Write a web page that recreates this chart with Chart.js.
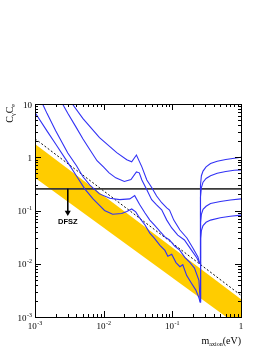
<!DOCTYPE html>
<html>
<head>
<meta charset="utf-8">
<script src="https://cdn.jsdelivr.net/npm/chart.js@4.4.0/dist/chart.umd.min.js"></script>
<style>
  html, body { margin: 0; padding: 0; background: #fff; }
  #wrap { width: 274px; height: 354px; }
</style>
</head>
<body>
<div id="wrap"><canvas id="chart" width="274" height="354"></canvas></div>
<script>
// axis ranges and tick labels
const xRange = [0.001, 1];
const yRange = [0.001, 10];
const xTickValues = [0.001, 0.01, 0.1, 1];
const xTickLabels = ['10^-3', '10^-2', '10^-1', '1'];
const yTickValues = [0.001, 0.01, 0.1, 1, 10];
const yTickLabels = ['10^-3', '10^-2', '10^-1', '1', '10'];

// yellow model band (upper / lower edge)
const bandMass = [0.001, 1];
const bandUpper = [1.77, 0.00216];
const bandLower = [0.41, 0.00063];

// dashed line
const dashedMass = [0.001, 1];
const dashedC = [2.23, 0.00255];

// horizontal limit + DFSZ arrow
const limitMass = [0.001, 1];
const limitC = [0.255, 0.255];
const arrowMass = [0.003, 0.003];
const arrowC = [0.255, 0.092];

// blue exclusion curves (lowest -> highest)
const curve1Mass = [0.001, 0.0015, 0.002, 0.003, 0.004, 0.0053, 0.007, 0.0087, 0.0103, 0.0135, 0.0183, 0.0217, 0.0256, 0.0293, 0.0334, 0.04, 0.047, 0.055, 0.066, 0.078, 0.086, 0.098, 0.113, 0.129, 0.142, 0.162, 0.19, 0.22, 0.244, 0.254, 0.258, 0.265, 0.28, 0.31, 0.36, 0.5, 0.7, 1];
const curve1C = [6.9, 3.1, 1.77, 0.8, 0.45, 0.255, 0.165, 0.125, 0.1, 0.085, 0.088, 0.096, 0.107, 0.094, 0.0725, 0.0535, 0.0376, 0.03, 0.0222, 0.0178, 0.0138, 0.0151, 0.0105, 0.0088, 0.0096, 0.006, 0.0043, 0.0032, 0.0023, 0.0019, 0.03, 0.042, 0.052, 0.06, 0.066, 0.073, 0.078, 0.082];

const curve2Mass = [0.00129, 0.0015, 0.002, 0.003, 0.004, 0.005, 0.0063, 0.0087, 0.0123, 0.0171, 0.024, 0.0283, 0.0334, 0.04, 0.047, 0.055, 0.066, 0.078, 0.091, 0.108, 0.128, 0.152, 0.18, 0.21, 0.244, 0.254, 0.258, 0.265, 0.28, 0.31, 0.36, 0.5, 0.7, 1];
const curve2C = [10, 6.6, 3.16, 1.2, 0.7, 0.43, 0.3, 0.205, 0.17, 0.16, 0.165, 0.19, 0.13, 0.09, 0.066, 0.053, 0.0405, 0.032, 0.028, 0.0215, 0.018, 0.0132, 0.0106, 0.0083, 0.0049, 0.002, 0.06, 0.085, 0.105, 0.12, 0.135, 0.148, 0.158, 0.165];

const curve3Mass = [0.00252, 0.003, 0.004, 0.005, 0.0063, 0.008, 0.01, 0.012, 0.015, 0.02, 0.025, 0.03, 0.033, 0.036, 0.0425, 0.05, 0.059, 0.07, 0.083, 0.098, 0.12, 0.15, 0.19, 0.228, 0.25, 0.254, 0.257, 0.265, 0.28, 0.31, 0.36, 0.45, 0.6, 0.8, 1];
const curve3C = [10, 6.7, 3.6, 2.2, 1.38, 0.86, 0.65, 0.51, 0.41, 0.35, 0.38, 0.53, 0.51, 0.375, 0.245, 0.16, 0.128, 0.103, 0.066, 0.047, 0.0345, 0.028, 0.018, 0.0128, 0.0101, 0.0101, 0.18, 0.27, 0.34, 0.40, 0.45, 0.5, 0.54, 0.57, 0.58];

const curve4Mass = [0.0035, 0.005, 0.0087, 0.0155, 0.0217, 0.0256, 0.03, 0.036, 0.0425, 0.05, 0.059, 0.07, 0.083, 0.091, 0.105, 0.129, 0.163, 0.2, 0.236, 0.25, 0.254, 0.257, 0.265, 0.28, 0.31, 0.36, 0.45, 0.6, 0.8, 1];
const curve4C = [10, 5.3, 2.33, 1.22, 0.9, 0.82, 1.1, 0.66, 0.375, 0.27, 0.187, 0.14, 0.112, 0.102, 0.066, 0.043, 0.0305, 0.0195, 0.0134, 0.0101, 0.0101, 0.3, 0.45, 0.55, 0.66, 0.76, 0.84, 0.91, 0.96, 1.0];

const BLUE = 'rgb(50,50,245)';
const YELLOW = '#ffcc00';

function pts(xs, ys) {
    return xs.map((x, i) => ({ x: x, y: ys[i] }));
}

function blueCurve(xs, ys) {
    return {
        data: pts(xs, ys),
        borderColor: BLUE,
        borderWidth: 1.1,
        pointRadius: 0,
        showLine: true,
        fill: false,
        order: 0
    };
}

// draw "10" with a superscript exponent; align = 'center' or 'right'
function drawPowLabel(ctx, label, x, baseline, align) {
    const parts = label.split('^');
    const baseFont = '9px "Liberation Serif", serif';
    const expFont = '6px "Liberation Serif", serif';
    ctx.font = baseFont;
    const wBase = ctx.measureText(parts[0]).width;
    let wExp = 0;
    if (parts[1]) {
        ctx.font = expFont;
        wExp = ctx.measureText(parts[1]).width + 0.5;
    }
    const total = wBase + wExp;
    let start = align === 'right' ? x - total : x - total / 2;
    ctx.textAlign = 'left';
    ctx.textBaseline = 'alphabetic';
    ctx.font = baseFont;
    ctx.fillText(parts[0], start, baseline);
    if (parts[1]) {
        ctx.font = expFont;
        ctx.fillText(parts[1], start + wBase + 0.5, baseline - 4);
    }
}

const rootFrame = {
    id: 'rootFrame',
    afterDraw(chart) {
        const { ctx, chartArea: a } = chart;
        const xs = chart.scales.x, ys = chart.scales.y;
        ctx.save();
        ctx.strokeStyle = '#000';
        ctx.lineWidth = 1;
        ctx.strokeRect(a.left + 0.5, a.top + 0.5, a.right - a.left, a.bottom - a.top);

        ctx.beginPath();
        // x ticks, bottom and top, pointing inward
        for (let d = -3; d <= 0; d++) {
            for (let k = 1; k <= 9; k++) {
                const v = k * Math.pow(10, d);
                if (v < xRange[0] * 0.999 || v > xRange[1] * 1.001) continue;
                const px = Math.round(xs.getPixelForValue(v)) + 0.5;
                const len = k === 1 ? 6 : 3;
                ctx.moveTo(px, a.bottom); ctx.lineTo(px, a.bottom - len);
                ctx.moveTo(px, a.top); ctx.lineTo(px, a.top + len);
            }
        }
        // y ticks, left and right
        for (let d = -3; d <= 1; d++) {
            for (let k = 1; k <= 9; k++) {
                const v = k * Math.pow(10, d);
                if (v < yRange[0] * 0.999 || v > yRange[1] * 1.001) continue;
                const py = Math.round(ys.getPixelForValue(v)) + 0.5;
                const len = k === 1 ? 6 : 3;
                ctx.moveTo(a.left, py); ctx.lineTo(a.left + len, py);
                ctx.moveTo(a.right, py); ctx.lineTo(a.right - len, py);
            }
        }
        ctx.stroke();

        // tick labels
        ctx.fillStyle = '#000';
        xTickValues.forEach((v, i) => {
            drawPowLabel(ctx, xTickLabels[i], xs.getPixelForValue(v), a.bottom + 12, 'center');
        });
        yTickValues.forEach((v, i) => {
            drawPowLabel(ctx, yTickLabels[i], a.left - 3, ys.getPixelForValue(v) + 3.5, 'right');
        });

        // x axis title: m_axion(eV), right aligned
        const t1 = 'm', t2 = 'axion', t3 = '(eV)';
        ctx.font = '10px "Liberation Serif", serif';
        const w1 = ctx.measureText(t1).width, w3 = ctx.measureText(t3).width;
        ctx.font = '6px "Liberation Serif", serif';
        const w2 = ctx.measureText(t2).width;
        let sx = a.right - (w1 + w2 + w3);
        const by = 344;
        ctx.font = '10px "Liberation Serif", serif';
        ctx.fillText(t1, sx, by);
        ctx.font = '6px "Liberation Serif", serif';
        ctx.fillText(t2, sx + w1, by + 2);
        ctx.font = '10px "Liberation Serif", serif';
        ctx.fillText(t3, sx + w1 + w2, by);

        // y axis title: C_γ C_e, rotated, ending at the top of the frame
        ctx.save();
        ctx.translate(13, a.top);
        ctx.rotate(-Math.PI / 2);
        const parts = [['C', 10, 0], ['\u03b3', 6, 2], ['C', 10, 0], ['e', 6, 2]];
        let tw = 0;
        parts.forEach(p => { ctx.font = p[1] + 'px "Liberation Serif", serif'; tw += ctx.measureText(p[0]).width; });
        let cx = -tw;
        parts.forEach(p => {
            ctx.font = p[1] + 'px "Liberation Serif", serif';
            ctx.fillText(p[0], cx, p[2]);
            cx += ctx.measureText(p[0]).width;
        });
        ctx.restore();

        // DFSZ label under the arrow
        ctx.font = 'bold 7.5px "Liberation Sans", Arial, sans-serif';
        ctx.textAlign = 'center';
        ctx.fillText('DFSZ', xs.getPixelForValue(arrowMass[0]), 224);
        ctx.restore();
    }
};

new Chart(document.getElementById('chart'), {
    type: 'scatter',
    data: {
        datasets: [
            blueCurve(curve1Mass, curve1C),
            blueCurve(curve2Mass, curve2C),
            blueCurve(curve3Mass, curve3C),
            blueCurve(curve4Mass, curve4C),
            {
                data: pts(arrowMass, arrowC),
                borderColor: '#000',
                borderWidth: 1,
                showLine: true,
                pointRadius: [0, 3.5],
                pointStyle: 'triangle',
                pointRotation: 180,
                pointBackgroundColor: '#000',
                pointBorderColor: '#000',
                pointBorderWidth: 0,
                fill: false,
                order: 1
            },
            {
                data: pts(limitMass, limitC),
                borderColor: '#3a3a3a',
                borderWidth: 1.6,
                pointRadius: 0,
                showLine: true,
                fill: false,
                order: 2
            },
            {
                data: pts(dashedMass, dashedC),
                borderColor: '#111',
                borderWidth: 1,
                borderDash: [2, 2],
                pointRadius: 0,
                showLine: true,
                fill: false,
                order: 3
            },
            {
                data: pts(bandMass, bandUpper),
                borderWidth: 0,
                borderColor: YELLOW,
                backgroundColor: YELLOW,
                pointRadius: 0,
                showLine: true,
                fill: '+1',
                order: 4
            },
            {
                data: pts(bandMass, bandLower),
                borderWidth: 0,
                borderColor: YELLOW,
                pointRadius: 0,
                showLine: true,
                fill: false,
                order: 5
            }
        ]
    },
    options: {
        responsive: false,
        animation: false,
        events: [],
        layout: { padding: { left: 35, top: 104, right: 33, bottom: 37 } },
        plugins: {
            legend: { display: false },
            tooltip: { enabled: false }
        },
        scales: {
            x: { type: 'logarithmic', min: xRange[0], max: xRange[1], display: false },
            y: { type: 'logarithmic', min: yRange[0], max: yRange[1], display: false }
        }
    },
    plugins: [rootFrame]
});
</script>
</body>
</html>
